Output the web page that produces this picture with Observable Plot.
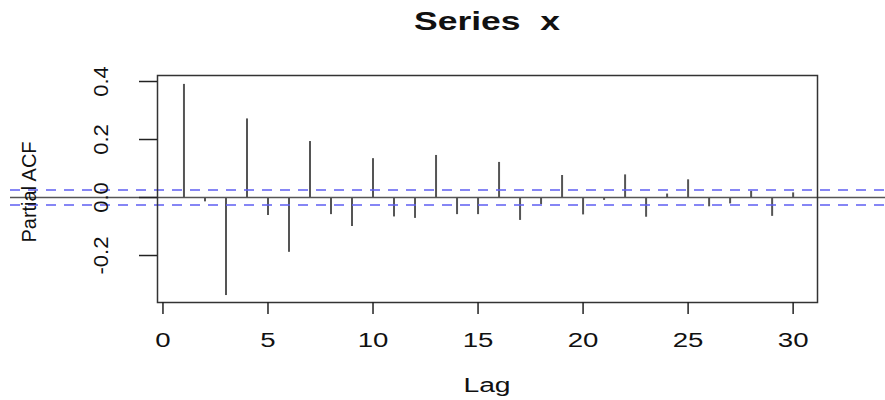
<!DOCTYPE html>
<html>
<head>
<meta charset="utf-8">
<script src="https://cdn.jsdelivr.net/npm/d3@7"></script>
<script src="https://cdn.jsdelivr.net/npm/@observablehq/plot@0.6"></script>
<style>
  html, body { margin: 0; padding: 0; background: #fff; }
  #wrap { position: relative; width: 885px; height: 400px; overflow: hidden; font-family: "Liberation Sans", Arial, Helvetica, sans-serif; color: #111; }
  #wrap svg { position: absolute; left: 0; top: 0; }
  .lbl { position: absolute; white-space: pre; line-height: 1; }
  #title { left: 487px; top: 21px; font-weight: bold; font-size: 25px; transform: translate(-50%, -50%) scaleX(1.42); }
  #xlab { left: 487px; top: 386px; font-size: 19.5px; transform: translate(-50%, -50%) scaleX(1.45); }
  #ylab { left: 29px; top: 192px; font-size: 20px; transform: translate(-50%, -50%) rotate(-90deg); }
</style>
</head>
<body>
<div id="wrap">
  <div id="title" class="lbl">Series  x</div>
  <div id="xlab" class="lbl">Lag</div>
  <div id="ylab" class="lbl">Partial ACF</div>
</div>
<script>
// ---- data ----
const lags = [1, 2, 3, 4, 5, 6, 7, 8, 9, 10, 11, 12, 13, 14, 15, 16, 17, 18, 19, 20, 21, 22, 23, 24, 25, 26, 27, 28, 29, 30];
const pacf = [0.390, -0.015, -0.338, 0.271, -0.062, -0.189, 0.193, -0.059, -0.100, 0.134,
              -0.067, -0.072, 0.145, -0.059, -0.059, 0.121, -0.079, -0.024, 0.076, -0.060,
              -0.010, 0.078, -0.068, 0.012, 0.061, -0.032, -0.022, 0.021, -0.065, 0.016];
const ciBounds = [0.026, -0.026];
const xTicks = [0, 5, 10, 15, 20, 25, 30];
const yTicks = [-0.2, 0.0, 0.2, 0.4];
const xDomain = [-0.26, 31.16];
const yDomain = [-0.362, 0.4207];

const rows = lags.map((lag, i) => ({lag, value: pacf[i]}));

const svg = Plot.plot({
  width: 885,
  height: 400,
  marginTop: 75,
  marginBottom: 98,
  marginLeft: 157,
  marginRight: 68,
  style: {fontFamily: "'Liberation Sans', Arial, Helvetica, sans-serif", fontSize: "20px", color: "#111", background: "transparent"},
  x: {domain: xDomain},
  y: {domain: yDomain},
  marks: [
    Plot.ruleX(rows, {x: "lag", y1: 0, y2: "value", stroke: "#555", strokeWidth: 2}),
    Plot.ruleY([0], {stroke: "#555", strokeWidth: 1.5, insetLeft: -147, insetRight: -68}),
    Plot.ruleY(ciBounds, {stroke: "#5f5ff2", strokeWidth: 1.5, strokeDasharray: "10,8", insetLeft: -147, insetRight: -68}),
    Plot.frame({stroke: "#333", strokeWidth: 1.5}),
    Plot.axisX({ticks: xTicks, tickSize: 12, tickPadding: 18, tickFormat: d => String(d), stroke: "#222", strokeWidth: 1.5, fill: "#111", label: null}),
    Plot.axisY({ticks: yTicks, tickSize: 18, tickPadding: 32, tickRotate: -90, tickFormat: d => d.toFixed(1), stroke: "#222", strokeWidth: 1.5, fill: "#111", label: null})
  ]
});

// stretch tick labels along their reading direction to match the wide lettering of the reference
function stretch(selector, sx) {
  svg.querySelectorAll(selector).forEach(t => {
    let tr = t.getAttribute("transform");
    if (!tr) {
      const x = +(t.getAttribute("x") || 0), y = +(t.getAttribute("y") || 0);
      t.removeAttribute("x"); t.removeAttribute("y");
      tr = `translate(${x},${y})`;
    }
    t.setAttribute("transform", tr + ` scale(${sx},1)`);
  });
}
stretch('[aria-label="x-axis tick label"] text', 1.38);
stretch('[aria-label="y-axis tick label"] text', 1.1);

document.getElementById("wrap").prepend(svg);
</script>
</body>
</html>
